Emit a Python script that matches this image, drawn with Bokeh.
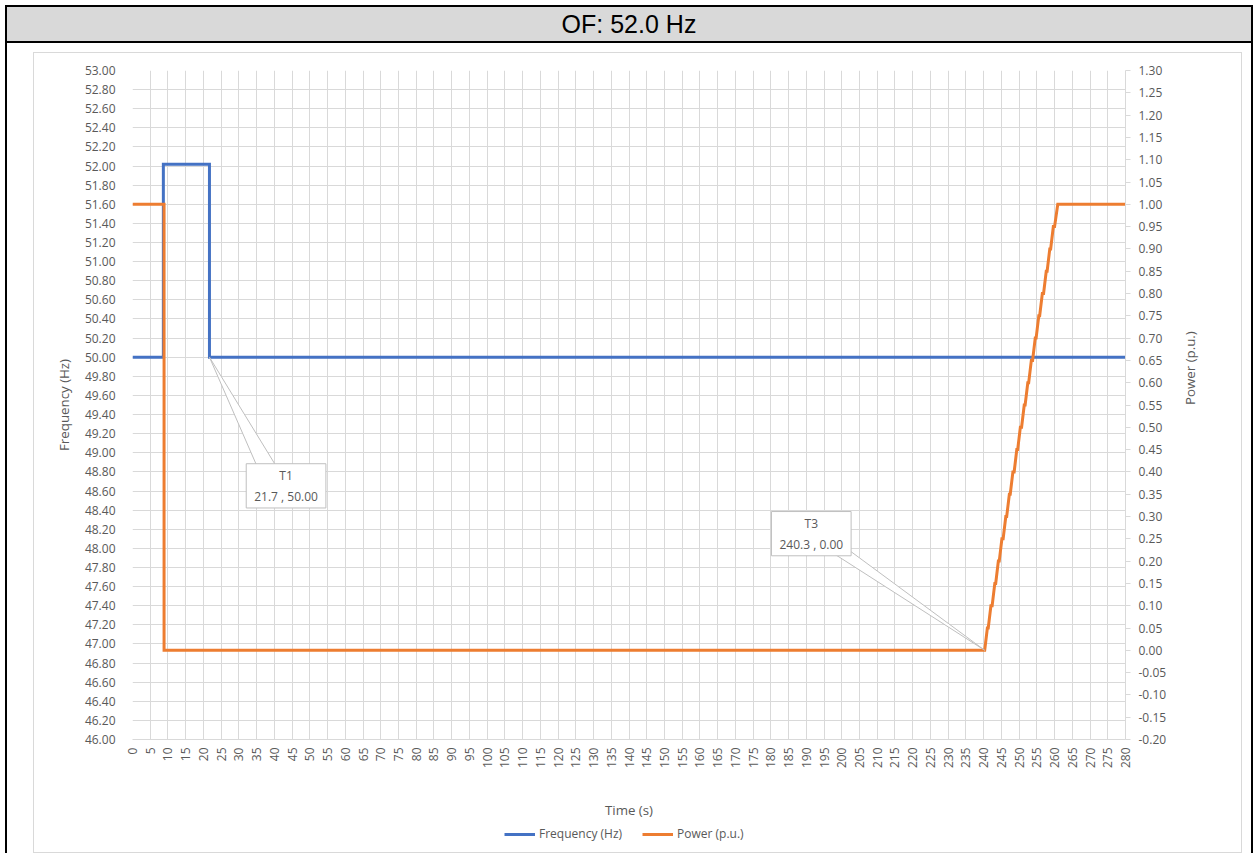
import math
from bokeh.plotting import figure
from bokeh.layouts import column
from bokeh.models import (Range1d, LinearAxis, FixedTicker, PrintfTickFormatter,
                          Legend, LegendItem, Label, Div)
from bokeh.embed import file_html
from bokeh.resources import INLINE

# ---------------- data ----------------
title_text = "OF: 52.0 Hz"
x_ticks = list(range(0, 281, 5))
freq_ticks = [round(46 + 0.2 * i, 2) for i in range(36)]
power_ticks = [round(-0.2 + 0.05 * i, 2) for i in range(31)]

freq_t = [0.0, 8.7, 8.7, 21.7, 21.7, 280.0]
freq_hz = [50.00, 50.00, 52.02, 52.02, 50.00, 50.00]

power_t_head = [0.0, 8.9, 8.9]
power_pu_head = [1.00, 1.00, 0.00]
ramp_t = [240.3, 241.05, 241.3, 242.05, 242.4, 243.15, 243.4, 244.15, 244.4, 245.15,
          245.5, 246.25, 246.5, 247.25, 247.5, 248.25, 248.6, 249.35, 249.6, 250.35,
          250.7, 251.45, 251.7, 252.45, 252.7, 253.45, 253.8, 254.55, 254.8, 255.55,
          255.8, 256.55, 256.9, 257.65, 257.9, 258.65, 258.9, 259.65, 260.0, 260.9]
ramp_pu = [0.00, 0.05, 0.05, 0.10, 0.10, 0.15, 0.15, 0.20, 0.20, 0.25,
           0.25, 0.30, 0.30, 0.35, 0.35, 0.40, 0.40, 0.45, 0.45, 0.50,
           0.50, 0.55, 0.55, 0.60, 0.60, 0.65, 0.65, 0.70, 0.70, 0.75,
           0.75, 0.80, 0.80, 0.85, 0.85, 0.90, 0.90, 0.95, 0.95, 1.00]
power_t_tail = [280.0]
power_pu_tail = [1.00]

power_t = power_t_head + ramp_t + power_t_tail
power_pu = power_pu_head + ramp_pu + power_pu_tail

series_names = ["Frequency (Hz)", "Power (p.u.)"]

callout_names = ["T1", "T3"]
callout_x = [21.7, 240.3]
callout_y = [50.00, 0.00]

# ---------------- style ----------------
FONT = "Open Sans"
TXT = "#595959"
GRID = "#d9d9d9"
BLUE = "#4472C4"
ORANGE = "#ED7D31"

W = 1207

p = figure(width=W, height=769, output_backend="svg", toolbar_location=None,
           x_range=Range1d(0, 280), y_range=Range1d(46, 53),
           min_border_left=98, min_border_right=116, min_border_top=17,
           min_border_bottom=82, background_fill_color="white",
           border_fill_color="white", outline_line_color=None)
p.extra_y_ranges = {"power": Range1d(-0.2, 1.3)}

p.xgrid.grid_line_color = GRID
p.ygrid.grid_line_color = GRID

def style_axis(ax):
    ax.major_label_text_font = FONT
    ax.major_label_text_font_size = "12px"
    ax.major_label_text_color = TXT
    ax.axis_label_text_font = FONT
    ax.axis_label_text_font_size = "13.3px"
    ax.axis_label_text_font_style = "normal"
    ax.axis_label_text_color = TXT
    ax.minor_tick_out = 0
    ax.minor_tick_in = 0
    ax.major_tick_in = 0

xa = p.xaxis[0]
style_axis(xa)
xa.ticker = FixedTicker(ticks=x_ticks)
xa.formatter = PrintfTickFormatter(format="%d")
xa.major_label_orientation = math.pi / 2
xa.major_tick_out = 0
xa.axis_line_color = GRID
xa.major_label_standoff = 8
xa.axis_label = "Time (s)"
xa.axis_label_standoff = 30

ya = p.yaxis[0]
style_axis(ya)
ya.ticker = FixedTicker(ticks=freq_ticks)
ya.formatter = PrintfTickFormatter(format="%.2f")
ya.major_tick_out = 0
ya.axis_line_color = None
ya.major_label_standoff = 17
ya.axis_label = series_names[0]
ya.axis_label_standoff = 9

ra = LinearAxis(y_range_name="power")
style_axis(ra)
ra.ticker = FixedTicker(ticks=power_ticks)
ra.formatter = PrintfTickFormatter(format="%.2f")
ra.major_tick_out = 5
ra.major_tick_line_color = GRID
ra.axis_line_color = GRID
ra.major_label_standoff = 8
ra.axis_label = series_names[1]
ra.axis_label_orientation = math.pi / 2
ra.axis_label_standoff = 21
p.add_layout(ra, "right")

# series
r_f = p.line(freq_t, freq_hz, line_color=BLUE, line_width=3, line_join="miter")
r_p = p.line(power_t, power_pu, line_color=ORANGE, line_width=3, line_join="miter",
             y_range_name="power")

# callouts (box centre offsets from the pointed value)
box_dx = [21.6, -48.9]
box_dy = [-1.346, 0.2615]
base_dx = [(14.1, 19.8), (-47.1, -40.9)]
base_dy = [-1.20, 0.24]
for i, name in enumerate(callout_names):
    rng = "default" if i == 0 else "power"
    yfmt = "%.2f" % callout_y[i]
    tip_x, tip_y = callout_x[i], callout_y[i]
    xs = [tip_x, tip_x + base_dx[i][0], tip_x + base_dx[i][1]]
    ys = [tip_y, tip_y + base_dy[i], tip_y + base_dy[i]]
    p.patch(xs, ys, fill_color="white", line_color="#bfbfbf", line_width=1,
            y_range_name=rng)
    lbl = Label(x=tip_x + box_dx[i], y=tip_y + box_dy[i], y_range_name=rng,
                text=f"{name}\n{callout_x[i]} , {yfmt}",
                text_align="center", text_baseline="middle",
                text_font=FONT, text_font_size="12px", text_color=TXT,
                text_line_height=1.25,
                background_fill_color="white", border_line_color="#bfbfbf")
    try:
        lbl.padding = dict(left=8, right=8, top=3, bottom=3)
    except Exception:
        lbl.padding = 4
    p.add_layout(lbl)

# legend strip (same series, same styles; ranges keep the lines themselves out of view)
leg_fig = figure(width=W, height=30, output_backend="svg", toolbar_location=None,
                 x_range=Range1d(0, 280), y_range=Range1d(-10, -9),
                 x_axis_location=None, y_axis_location=None, min_border=0,
                 background_fill_color="white", border_fill_color="white",
                 outline_line_color=None)
leg_fig.grid.visible = False
l_f = leg_fig.line(freq_t, freq_hz, line_color=BLUE, line_width=3)
l_p = leg_fig.line(power_t, power_pu, line_color=ORANGE, line_width=3)
legend = Legend(items=[LegendItem(label=series_names[0], renderers=[l_f]),
                       LegendItem(label=series_names[1], renderers=[l_p])],
                orientation="horizontal", location=(372, 10),
                border_line_color=None, background_fill_alpha=0,
                label_text_font=FONT, label_text_font_size="12px",
                label_text_color=TXT, glyph_width=31, glyph_height=12,
                label_height=14, label_standoff=4, spacing=20, padding=0, margin=0)
leg_fig.add_layout(legend)

title_div = Div(text=title_text, width=1244, height=38, margin=(0, 0, 0, 0),
                styles={"background-color": "#d9d9d9",
                        "border-top": "2px solid black",
                        "border-bottom": "2px solid black",
                        "box-sizing": "border-box",
                        "text-align": "center",
                        "font-family": "'Liberation Sans', Arial, sans-serif",
                        "font-size": "25px", "line-height": "34px",
                        "color": "black"})

chart_area = column(p, leg_fig, spacing=0, margin=(9, 0, 0, 26),
                    styles={"border": "1px solid #d9d9d9"})

layout = column(title_div, chart_area, spacing=0, margin=(5, 0, 0, 5),
                styles={"border-left": "2px solid black",
                        "border-right": "2px solid black"})

open("out.html", "w").write(file_html(layout, INLINE))
